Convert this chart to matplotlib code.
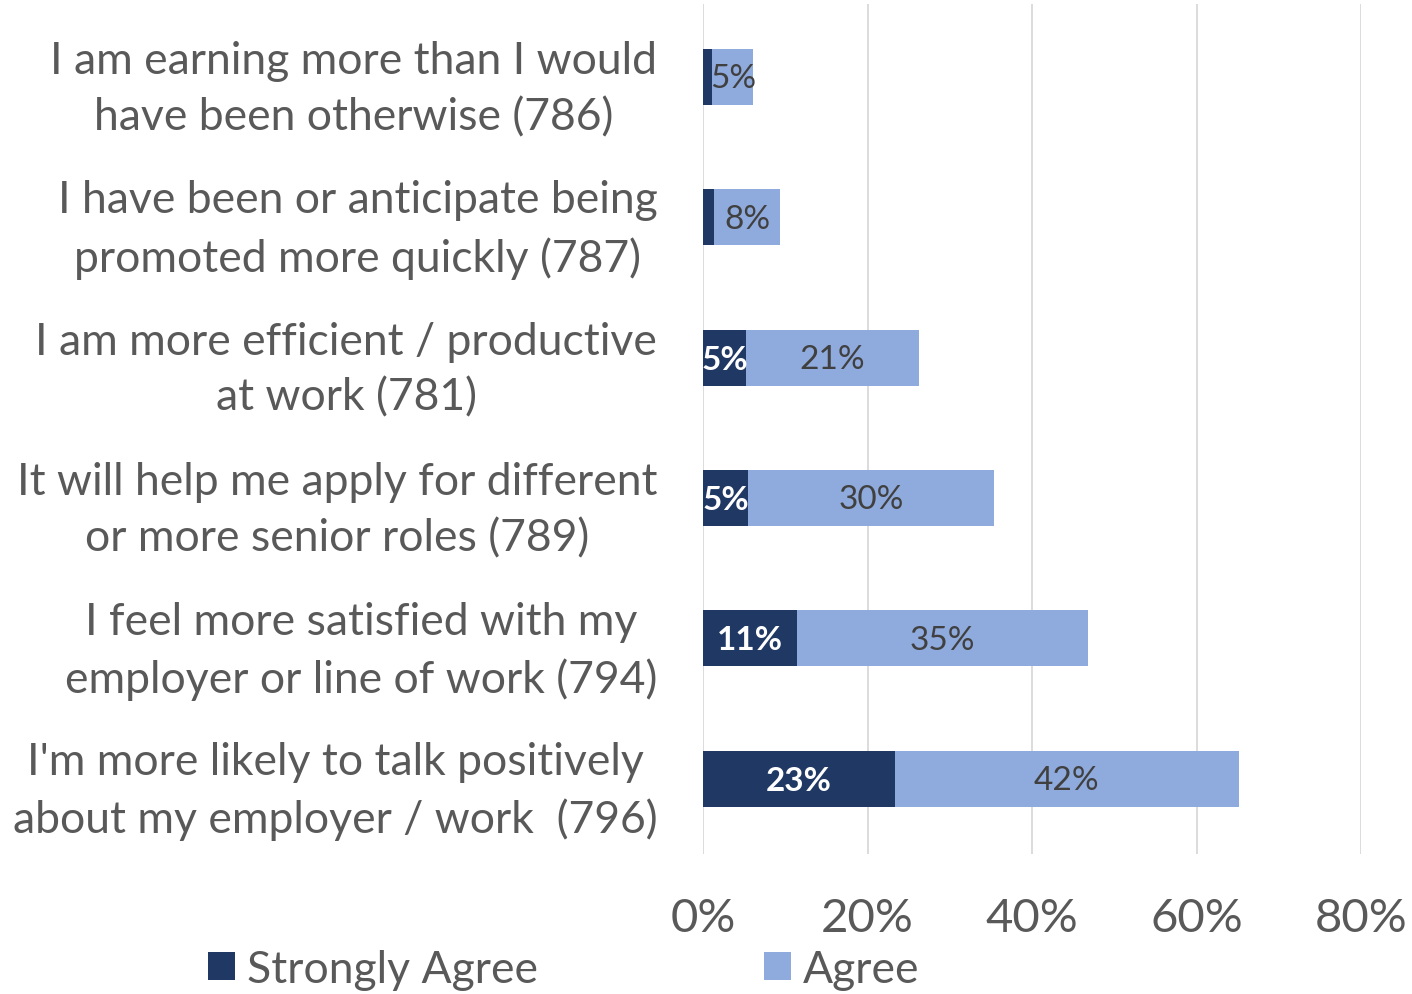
import matplotlib
matplotlib.use("Agg")
from matplotlib import pyplot as plt

# Data
categories = [
    "I am earning more than I would\nhave been otherwise (786)",
    "I have been or anticipate being\npromoted more quickly (787)",
    "I am more efficient / productive\nat work (781)",
    "It will help me apply for different\nor more senior roles (789)",
    "I feel more satisfied with my\nemployer or line of work (794)",
    "I'm more likely to talk positively\nabout my employer / work  (796)",
]
strongly_agree = [1.1, 1.3, 5.2, 5.4, 11.4, 23.3]
agree = [5.0, 8.1, 21.0, 30.0, 35.4, 41.8]
show_sa_label = [False, False, True, True, True, True]
x_ticks = [0, 20, 40, 60, 80]

dark = "#203864"
light = "#8FAADC"
text_gray = "#595959"

plt.rcParams["font.family"] = ["Lato", "DejaVu Sans"]

fig = plt.figure(figsize=(14.12, 9.95), dpi=100)
ax = fig.add_axes([0.498, 0.141, 0.466, 0.854])

y = list(range(len(categories)))
bars_sa = ax.barh(y, strongly_agree, height=0.4, color=dark, label="Strongly Agree")
bars_a = ax.barh(y, agree, left=strongly_agree, height=0.4, color=light, label="Agree")

# Data labels
for i in y:
    if show_sa_label[i]:
        ax.text(strongly_agree[i] / 2, i + 0.01, f"{round(strongly_agree[i])}%", ha="center", va="center",
                color="white", fontsize=24, fontweight="bold")
    ax.text(strongly_agree[i] + agree[i] / 2, i + 0.01, f"{round(agree[i])}%", ha="center", va="center",
            color="#404040", fontsize=24)

ax.set_xlim(0, 80)
ax.set_ylim(5.534, -0.52)
ax.set_xticks(x_ticks)
ax.set_xticklabels([f"{t}%" for t in x_ticks])
ax.set_yticks(y)
ax.set_yticklabels(categories, multialignment="center", linespacing=1.45)

ax.tick_params(axis="x", length=0, labelsize=34, colors=text_gray, pad=31)
ax.tick_params(axis="y", length=0, labelsize=32, colors=text_gray, pad=33)

ax.grid(axis="x", color="#D9D9D9", linewidth=1.3)
ax.set_axisbelow(True)
for s in ax.spines.values():
    s.set_visible(False)

fig.legend(handles=[bars_sa, bars_a], loc="center left", bbox_to_anchor=(0.119, 0.025),
           ncol=2, frameon=False, fontsize=32, labelcolor=text_gray,
           handlelength=0.6, handleheight=0.6, handletextpad=0.27, columnspacing=5.1)

fig.savefig("out.png", dpi=100)
